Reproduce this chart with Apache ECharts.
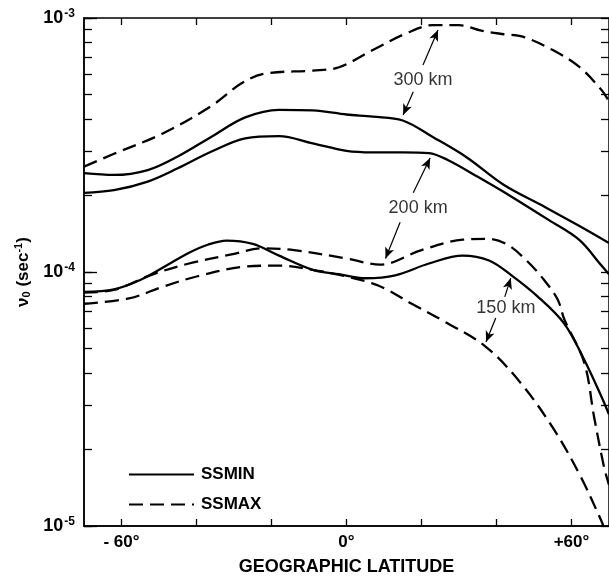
<!DOCTYPE html>
<html><head><meta charset="utf-8">
<script src="https://cdn.jsdelivr.net/npm/echarts@6/dist/echarts.min.js"></script>
<style>html,body{margin:0;padding:0;background:#fff}#c{width:609px;height:582px}</style>
</head><body><div id="c"></div>
<script>
// ---- data (latitude in degrees, collision frequency in s^-1) ----
const ssmin300Lat = [-70, -62, -53, -45, -36, -27, -18, -9, 0, 7, 15, 23, 32, 42, 53, 62, 70];
const ssmin300Val = [2.45e-4, 2.41e-4, 2.52e-4, 2.85e-4, 3.41e-4, 4.06e-4, 4.35e-4, 4.33e-4, 4.17e-4, 4.09e-4, 3.95e-4, 3.40e-4, 2.83e-4, 2.20e-4, 1.80e-4, 1.52e-4, 1.30e-4];

const ssmin200Lat = [-70, -62, -53, -45, -36, -27, -18, -9, 0, 7, 15, 22, 27, 35, 44, 54, 62, 68, 70];
const ssmin200Val = [2.05e-4, 2.10e-4, 2.27e-4, 2.56e-4, 2.98e-4, 3.36e-4, 3.43e-4, 3.21e-4, 3.00e-4, 2.96e-4, 2.96e-4, 2.94e-4, 2.76e-4, 2.37e-4, 1.98e-4, 1.60e-4, 1.34e-4, 1.06e-4, 0.98e-4];

const ssmax300Lat = [-70, -62, -49, -36, -28, -22, -9, -2, 7, 16, 23, 30, 36, 42, 47, 55, 62, 68, 70];
const ssmax300Val = [2.60e-4, 2.92e-4, 3.51e-4, 4.51e-4, 5.53e-4, 6.03e-4, 6.21e-4, 6.40e-4, 7.48e-4, 8.71e-4, 9.37e-4, 9.37e-4, 8.91e-4, 8.63e-4, 8.44e-4, 7.48e-4, 6.43e-4, 5.21e-4, 4.70e-4];

const ssmin150Lat = [-70, -62, -55, -48, -42, -37, -32, -25, -18, -9, -2, 5, 13, 22, 31, 38, 44, 51, 58, 63, 68, 70];
const ssmin150Val = [8.35e-5, 8.55e-5, 9.3e-5, 1.06e-4, 1.19e-4, 1.28e-4, 1.33e-4, 1.29e-4, 1.16e-4, 1.02e-4, 9.8e-5, 9.45e-5, 9.7e-5, 1.08e-4, 1.16e-4, 1.11e-4, 9.7e-5, 8.0e-5, 6.28e-5, 4.64e-5, 3.23e-5, 2.75e-5];

const ssmax200Lat = [-70, -62, -52, -42, -31, -22, -14, 0, 9, 20, 31, 38, 43, 48, 52.7, 56.3, 58.1, 63.4, 66, 68.7, 70];
const ssmax200Val = [8.3e-5, 8.5e-5, 9.75e-5, 1.08e-4, 1.17e-4, 1.24e-4, 1.22e-4, 1.13e-4, 1.07e-4, 1.22e-4, 1.34e-4, 1.35e-4, 1.28e-4, 1.11e-4, 9.3e-5, 7.8e-5, 6.5e-5, 4.4e-5, 2.7e-5, 1.7e-5, 1.45e-5];

const ssmax150Lat = [-70, -58, -49, -40, -27, -18, -9, 0, 6.7, 11, 17.4, 26, 37, 46.5, 55.4, 62.5, 67.8, 68.5];
const ssmax150Val = [7.5e-5, 7.87e-5, 8.75e-5, 9.6e-5, 1.05e-4, 1.06e-4, 1.02e-4, 9.6e-5, 9.04e-5, 8.5e-5, 7.5e-5, 6.4e-5, 5.1e-5, 3.65e-5, 2.39e-5, 1.56e-5, 1.06e-5, 1.0e-5];

// ---- ticks / labels ----
const xTickValues = [-60, -40, -20, 0, 20, 40, 60];
const xLabelValues = [-60, 0, 60];
const xLabelText = {'-60': '- 60°', '0': '0°', '60': '+60°'};
const yMajorValues = [1e-5, 1e-4, 1e-3];
const yMinorValues = [2e-5, 3e-5, 4e-5, 5e-5, 6e-5, 7e-5, 8e-5, 9e-5, 2e-4, 3e-4, 4e-4, 5e-4, 6e-4, 7e-4, 8e-4, 9e-4];
const yAllTicks = yMinorValues.concat(yMajorValues);

// ---- annotations (data coordinates) ----
const annoLabels = [[20.4, 5.70e-4, '300 km'], [19.1, 1.79e-4, '200 km'], [42.5, 7.21e-5, '150 km']];
const annoArrows = [
  [[20.4, 6.53e-4], [24.4, 8.97e-4]],
  [[17.8, 5.12e-4], [15.1, 4.15e-4]],
  [[17.8, 2.05e-4], [22.3, 2.81e-4]],
  [[14.3, 1.57e-4], [10.4, 1.13e-4]],
  [[42.2, 7.98e-5], [43.8, 9.46e-5]],
  [[39.8, 6.59e-5], [37.2, 5.30e-5]]
];

const FONT = 'Liberation Sans';
const pair = (lat, val) => lat.map((x, i) => [x, val[i]]);
const DASH = [14, 7];
// data series live on grid 1 (axes index 2); grid 0 only carries the tick frame
function curve(name, lat, val, dashed) {
  return {
    name, type: 'line', smooth: 0.35, symbol: 'none', clip: true,
    xAxisIndex: 2, yAxisIndex: 2,
    data: pair(lat, val),
    lineStyle: {color: '#000', width: 2.3, type: dashed ? DASH : 'solid'},
    itemStyle: {color: '#000'},
    emphasis: {disabled: true}, silent: true
  };
}

const gridRect = {left: 84, right: -3, top: 18, bottom: 56, containLabel: false};
const yBase = {type: 'log', logBase: 10, min: 1e-5, max: 1e-3, splitLine: {show: false}, minorTick: {show: false}, offset: 0};
const xBase = {type: 'value', min: -70, max: 70, splitLine: {show: false}, offset: 0};
const axLine = {show: true, onZero: false, lineStyle: {color: '#000', width: 1.5}};
const tickStyle = {color: '#000', width: 1.3};

const chart = echarts.init(document.getElementById('c'), null, {renderer: 'canvas'});
chart.setOption({
  animation: false,
  backgroundColor: '#fff',
  grid: [Object.assign({}, gridRect), Object.assign({}, gridRect)],
  legend: {
    data: ['SSMIN', 'SSMAX'], orient: 'vertical', left: 123, top: 461,
    itemWidth: 65, itemHeight: 14, itemGap: 13,
    itemStyle: {opacity: 0, borderWidth: 0},
    textStyle: {fontFamily: FONT, fontSize: 17, fontWeight: 'bold', color: '#000', padding: [0, 0, 0, 2]},
    selectedMode: false
  },
  xAxis: [
    Object.assign({}, xBase, {
      gridIndex: 0, position: 'bottom',
      axisLine: axLine,
      axisTick: {show: true, inside: true, length: 7, customValues: xTickValues, lineStyle: tickStyle},
      axisLabel: {show: true, customValues: xLabelValues, margin: 8, formatter: v => xLabelText[String(v)],
        fontFamily: FONT, fontSize: 17, fontWeight: 'bold', color: '#000'},
      name: 'GEOGRAPHIC LATITUDE', nameLocation: 'middle', nameGap: 32,
      nameTextStyle: {fontFamily: FONT, fontSize: 18, fontWeight: 'bold', color: '#000'}
    }),
    Object.assign({}, xBase, {
      gridIndex: 0, position: 'top',
      axisLine: axLine,
      axisTick: {show: true, inside: true, length: 7, customValues: xTickValues, lineStyle: tickStyle},
      axisLabel: {show: false}
    }),
    Object.assign({}, xBase, {
      gridIndex: 1, position: 'bottom',
      axisLine: axLine, axisTick: {show: false}, axisLabel: {show: false}
    })
  ],
  yAxis: [
    Object.assign({}, yBase, {
      gridIndex: 0, position: 'left',
      axisLine: axLine,
      axisTick: {show: true, inside: true, length: 8, customValues: yAllTicks, lineStyle: tickStyle},
      axisLabel: {show: false}
    }),
    Object.assign({}, yBase, {
      gridIndex: 0, position: 'right',
      axisLine: axLine,
      axisTick: {show: true, inside: true, length: 8, customValues: yAllTicks, lineStyle: tickStyle},
      axisLabel: {show: false}
    }),
    Object.assign({}, yBase, {
      gridIndex: 1, position: 'left',
      axisLine: axLine,
      axisTick: {show: true, inside: true, length: 13, customValues: yMajorValues, lineStyle: tickStyle},
      axisLabel: {show: true, customValues: yMajorValues, margin: 9,
        formatter: v => '{b|10}{e|' + Math.round(Math.log10(v)) + '}',
        rich: {
          b: {fontFamily: FONT, fontSize: 18, fontWeight: 'bold', color: '#000', lineHeight: 20},
          e: {fontFamily: FONT, fontSize: 12, fontWeight: 'bold', color: '#000', lineHeight: 20, verticalAlign: 'top', padding: [0, 0, 6, 1]}
        }},
      name: '{a|ν}{s|0}{a| (sec}{p|-1}{a|)}', nameLocation: 'middle', nameRotate: 90, nameGap: 46,
      nameTextStyle: {
        rich: {
          a: {fontFamily: FONT, fontSize: 17, fontWeight: 'bold', color: '#000', lineHeight: 22},
          s: {fontFamily: FONT, fontSize: 11, fontWeight: 'bold', color: '#000', lineHeight: 22, padding: [8, 0, 0, 0]},
          p: {fontFamily: FONT, fontSize: 11, fontWeight: 'bold', color: '#000', lineHeight: 22, padding: [0, 0, 8, 0]}
        }
      }
    })
  ],
  series: [
    curve('SSMIN', ssmin300Lat, ssmin300Val, false),
    curve('SSMIN', ssmin200Lat, ssmin200Val, false),
    curve('SSMIN', ssmin150Lat, ssmin150Val, false),
    curve('SSMAX', ssmax300Lat, ssmax300Val, true),
    curve('SSMAX', ssmax200Lat, ssmax200Val, true),
    curve('SSMAX', ssmax150Lat, ssmax150Val, true),
    {
      name: 'annotations', type: 'scatter', symbolSize: 0, silent: true,
      xAxisIndex: 2, yAxisIndex: 2,
      data: annoLabels,
      label: {show: true, position: 'inside', formatter: p => p.data[2],
        fontFamily: FONT, fontSize: 18, color: '#000'},
      markLine: {
        silent: true, symbol: ['none', 'arrow'], symbolSize: [7, 11],
        label: {show: false},
        lineStyle: {color: '#000', width: 1.2, type: 'solid'},
        data: annoArrows.map(a => [{coord: a[0]}, {coord: a[1]}])
      }
    }
  ]
});
</script>
</body></html>
